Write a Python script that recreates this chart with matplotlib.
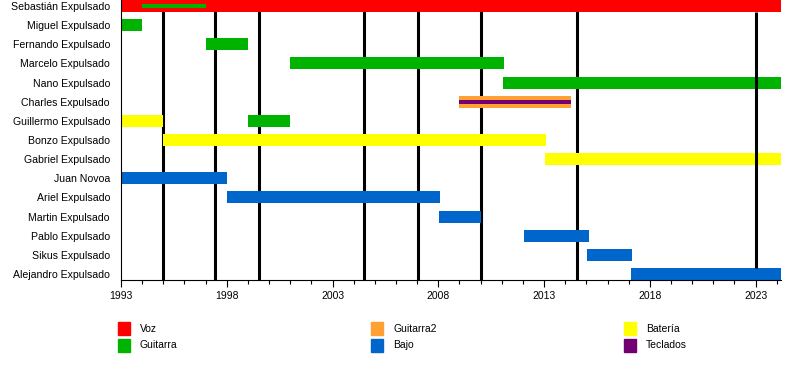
import matplotlib.pyplot as plt
from matplotlib.patches import Rectangle
from matplotlib.ticker import MultipleLocator

plt.rcParams['font.family'] = ['Liberation Sans', 'DejaVu Sans']

# members, top to bottom
members = ["Sebastián Expulsado", "Miguel Expulsado", "Fernando Expulsado",
           "Marcelo Expulsado", "Nano Expulsado", "Charles Expulsado",
           "Guillermo Expulsado", "Bonzo Expulsado", "Gabriel Expulsado",
           "Juan Novoa", "Ariel Expulsado", "Martin Expulsado",
           "Pablo Expulsado", "Sikus Expulsado", "Alejandro Expulsado"]

roles = ["Voz", "Guitarra", "Guitarra2", "Bajo", "Bateria", "Teclados"]
legend_labels = ["Voz", "Guitarra", "Guitarra2", "Bajo", "Batería", "Teclados"]
role_colors = {"Voz": "#ff0000", "Guitarra": "#00b300", "Guitarra2": "#ffa033",
               "Bajo": "#0066cc", "Bateria": "#ffff00", "Teclados": "#730073"}

start_year = 1993
end_year = 2024.2

# (member index, role, start, end)
periods = [
    (0, "Voz", 1993, end_year),
    (1, "Guitarra", 1993, 1994),
    (2, "Guitarra", 1997, 1999),
    (3, "Guitarra", 2001, 2011.1),
    (4, "Guitarra", 2011.05, end_year),
    (5, "Guitarra2", 2009, 2014.25),
    (6, "Bateria", 1993, 1995),
    (6, "Guitarra", 1999, 2001),
    (7, "Bateria", 1995, 2013.1),
    (8, "Bateria", 2013.05, end_year),
    (9, "Bajo", 1993, 1998),
    (10, "Bajo", 1998, 2008.1),
    (11, "Bajo", 2008.05, 2010),
    (12, "Bajo", 2012.05, 2015.1),
    (13, "Bajo", 2015.05, 2017.15),
    (14, "Bajo", 2017.1, end_year),
]
# thin bars drawn inside the main ones
thin_periods = [
    (0, "Guitarra", 1994, 1997),
    (5, "Teclados", 2009, 2014.25),
]

# album releases
albums = [1995, 1997.45, 1999.5, 2004.5, 2007.05, 2010, 2014.55]
last_album = 2023

fig = plt.figure(figsize=(8, 3.8), dpi=100)
ax = fig.add_axes([121 / 800, 100 / 380, 660 / 800, 280 / 380])

bar_h = 0.63
for row, role, s, e in periods:
    ax.barh(row, e - s, left=s, height=bar_h, color=role_colors[role], zorder=2)
for row, role, s, e in thin_periods:
    ax.barh(row, e - s, left=s, height=0.2, color=role_colors[role], zorder=3)

ax.vlines(albums, 0, 14.31, color="black", linewidth=2.2, zorder=1)
ax.vlines(last_album, bar_h / 2, 14 - bar_h / 2, color="black", linewidth=2.2, zorder=4)

ax.set_xlim(start_year, end_year)
ax.set_ylim(14.31, -0.31)
ax.set_yticks(range(len(members)))
ax.set_yticklabels(members, fontsize=7.6)
ax.tick_params(axis="y", length=0, pad=8)

ax.xaxis.set_major_locator(MultipleLocator(5, offset=3))
ax.xaxis.set_minor_locator(MultipleLocator(1))
ax.tick_params(axis="x", which="major", length=5, width=0.8, labelsize=7.5, pad=3)
ax.tick_params(axis="x", which="minor", length=3, width=0.8)

for side in ["top", "right"]:
    ax.spines[side].set_visible(False)
ax.spines["left"].set_linewidth(0.8)
ax.spines["bottom"].set_linewidth(0.8)

# legend, three columns of two
col_x = [118, 371, 624]
row_y = [322, 339]
for i, role in enumerate(roles):
    cx = col_x[i // 2]
    ry = row_y[i % 2]
    fig.add_artist(Rectangle((cx / 800, 1 - (ry + 13) / 380), 12 / 800, 13 / 380,
                             transform=fig.transFigure, color=role_colors[role]))
    fig.text((cx + 22) / 800, 1 - (ry + 6.5) / 380, legend_labels[i],
             fontsize=7.5, va="center", ha="left")

plt.savefig("out.png", dpi=100)
